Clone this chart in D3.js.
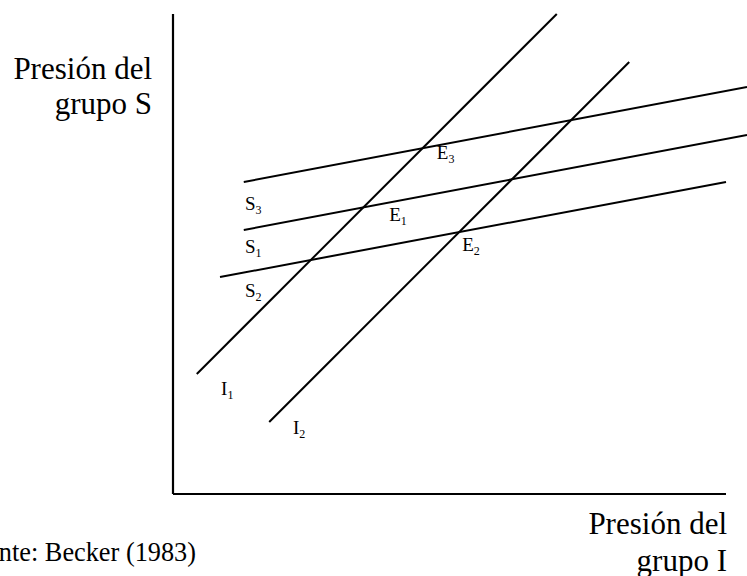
<!DOCTYPE html>
<html>
<head>
<meta charset="utf-8">
<script src="https://cdn.jsdelivr.net/npm/d3@7"></script>
<style>
  body { margin: 0; background: #fff; }
  svg { display: block; }
  text { font-family: 'Liberation Serif', 'Times New Roman', Times, serif; }
</style>
</head>
<body>
<svg id="chart" width="747" height="576"></svg>
<script>
// ---------- DATA (arbitrary "pressure" units, 0-100 on each axis) ----------
// I curves: pressure of group I
const iNames = ['I1', 'I2'];
const iStart = [[4.3, 25], [17.4, 15]];
const iEnd = [[69.4, 100], [82.5, 90]];

// S curves: pressure of group S
const sNames = ['S3', 'S1', 'S2'];
const sStart = [[12.8, 65], [12.8, 55], [8.5, 45.2]];
const sEnd = [[103.8, 84.8], [103.8, 74.8], [100, 65]];

// curve / equilibrium labels: [main letter, subscript, x, y]
const labels = [
  ['S', '3', 13.0, 59.2],
  ['S', '1', 13.0, 50.2],
  ['S', '2', 13.0, 41.0],
  ['E', '3', 47.7, 69.8],
  ['E', '1', 39.1, 56.9],
  ['E', '2', 52.3, 50.6],
  ['I', '1', 8.7, 20.6],
  ['I', '2', 21.7, 12.5],
];

const yTitle = ['Presión del', 'grupo S'];
const xTitle = ['Presión del', 'grupo I'];
const sourceText = 'Fuente: Becker (1983)';

const FONT = "'Liberation Serif', 'Times New Roman', Times, serif";

// ---------- CHART ----------
(function draw() {
  const svg = d3.select('#chart');

  const x = d3.scaleLinear().domain([0, 100]).range([173, 726]);
  const y = d3.scaleLinear().domain([0, 100]).range([494, 14]);

  // axes: plain lines, no ticks
  const axisLines = [
    [[0, 0], [0, 100]],
    [[0, 0], [100, 0]],
  ];
  svg.selectAll('line.axis')
    .data(axisLines)
    .join('line')
    .attr('class', 'axis')
    .attr('x1', (d) => x(d[0][0]))
    .attr('y1', (d) => y(d[0][1]))
    .attr('x2', (d) => x(d[1][0]))
    .attr('y2', (d) => y(d[1][1]))
    .attr('stroke', '#000')
    .attr('stroke-width', 2.2);

  const curves = iNames.map((n, i) => ({ name: n, a: iStart[i], b: iEnd[i] }))
    .concat(sNames.map((n, i) => ({ name: n, a: sStart[i], b: sEnd[i] })));

  svg.selectAll('line.curve')
    .data(curves)
    .join('line')
    .attr('class', 'curve')
    .attr('x1', (d) => x(d.a[0]))
    .attr('y1', (d) => y(d.a[1]))
    .attr('x2', (d) => x(d.b[0]))
    .attr('y2', (d) => y(d.b[1]))
    .attr('stroke', '#000')
    .attr('stroke-width', 2);

  // labels with subscripts
  const lab = svg.selectAll('text.lab')
    .data(labels)
    .join('text')
    .attr('class', 'lab')
    .attr('font-family', FONT)
    .attr('x', (d) => x(d[2]))
    .attr('y', (d) => y(d[3]))
    .attr('font-size', 19)
    .attr('fill', '#000');
  lab.append('tspan').text((d) => d[0]);
  lab.append('tspan')
    .attr('font-size', 12)
    .attr('dy', 4)
    .text((d) => d[1]);

  // axis titles
  svg.selectAll('text.ytitle')
    .data(yTitle)
    .join('text')
    .attr('class', 'ytitle')
    .attr('font-family', FONT)
    .attr('x', 152)
    .attr('y', (d, i) => 79 + i * 35)
    .attr('text-anchor', 'end')
    .attr('font-size', 31)
    .text((d) => d);

  svg.selectAll('text.xtitle')
    .data(xTitle)
    .join('text')
    .attr('class', 'xtitle')
    .attr('font-family', FONT)
    .attr('x', 727)
    .attr('y', (d, i) => 534 + i * 37)
    .attr('text-anchor', 'end')
    .attr('font-size', 31)
    .text((d) => d);

  // source note, its start runs off the left edge as in the original
  svg.append('text')
    .attr('font-family', FONT)
    .attr('x', 196)
    .attr('y', 561)
    .attr('text-anchor', 'end')
    .attr('font-size', 26.3)
    .text(sourceText);
})();
</script>
</body>
</html>
